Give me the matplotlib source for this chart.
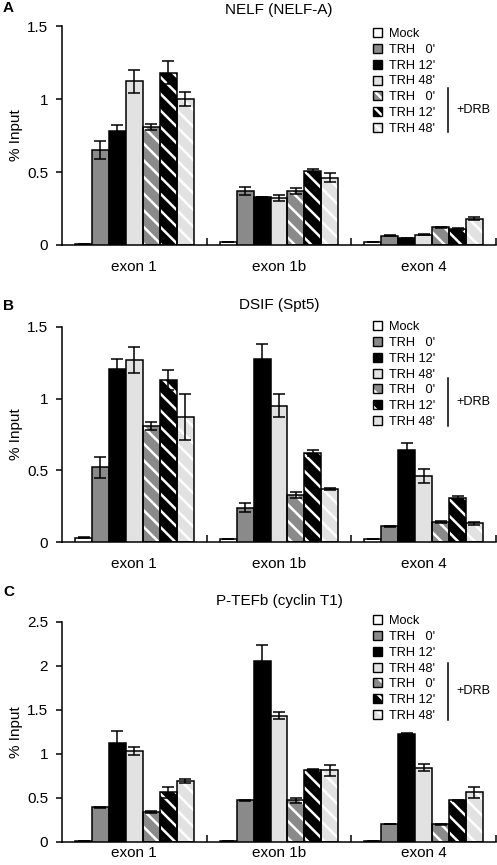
import matplotlib

matplotlib.use("Agg")
import matplotlib.pyplot as plt
import numpy as np
from matplotlib.patches import Patch

plt.rcParams["font.family"] = ["Liberation Sans", "DejaVu Sans"]
plt.rcParams["hatch.linewidth"] = 1.8
plt.rcParams["axes.linewidth"] = 1.1

# categories and series
exons = ["exon 1", "exon 1b", "exon 4"]
series = ["Mock", "TRH   0'", "TRH 12'", "TRH 48'", "TRH   0'", "TRH 12'", "TRH 48'"]

# panel A: NELF (NELF-A), rows = series, cols = exons
nelf_vals = [
    [0.01, 0.02, 0.02],
    [0.65, 0.37, 0.065],
    [0.78, 0.33, 0.045],
    [1.12, 0.32, 0.07],
    [0.81, 0.37, 0.12],
    [1.18, 0.51, 0.11],
    [1.00, 0.46, 0.18],
]
nelf_err = [
    [0.0, 0.0, 0.0],
    [0.06, 0.03, 0.005],
    [0.04, 0.0, 0.004],
    [0.08, 0.02, 0.004],
    [0.02, 0.02, 0.004],
    [0.08, 0.01, 0.005],
    [0.05, 0.03, 0.01],
]

# panel B: DSIF (Spt5)
dsif_vals = [
    [0.03, 0.02, 0.02],
    [0.52, 0.24, 0.11],
    [1.21, 1.28, 0.64],
    [1.27, 0.95, 0.46],
    [0.81, 0.33, 0.14],
    [1.13, 0.62, 0.31],
    [0.87, 0.37, 0.13],
]
dsif_err = [
    [0.005, 0.0, 0.0],
    [0.07, 0.03, 0.004],
    [0.07, 0.10, 0.05],
    [0.09, 0.08, 0.05],
    [0.03, 0.02, 0.005],
    [0.07, 0.02, 0.01],
    [0.16, 0.01, 0.01],
]

# panel C: P-TEFb (cyclin T1)
ptefb_vals = [
    [0.01, 0.01, 0.01],
    [0.39, 0.47, 0.20],
    [1.12, 2.05, 1.22],
    [1.03, 1.43, 0.84],
    [0.34, 0.47, 0.20],
    [0.56, 0.82, 0.47],
    [0.69, 0.81, 0.56],
]
ptefb_err = [
    [0.0, 0.0, 0.0],
    [0.01, 0.005, 0.0],
    [0.14, 0.18, 0.01],
    [0.05, 0.04, 0.04],
    [0.01, 0.03, 0.005],
    [0.06, 0.005, 0.005],
    [0.02, 0.06, 0.06],
]

face_colors = ["white", "#8a8a8a", "black", "#e2e2e2", "#8a8a8a", "black", "#e2e2e2"]
hatched = [False, False, False, False, True, True, True]

fig = plt.figure(figsize=(4.97, 8.65), dpi=100)
W, H = 497.0, 865.0


def px_axes(left, top, right, bottom):
    return fig.add_axes([left / W, 1 - bottom / H, (right - left) / W, (bottom - top) / H])


def draw_panel(ax, vals, errs, title, letter, ymax, heads_y, leg_top, line_y, label_pad):
    vals = np.array(vals)
    errs = np.array(errs)
    x = np.arange(len(exons))
    width = 0.117
    for i in range(len(series)):
        pos = x + (i - 3) * width
        if hatched[i]:
            # white stripes first, black outline on top
            ax.bar(pos, vals[i], width, color=face_colors[i], edgecolor="white",
                   linewidth=0, hatch="\\\\", zorder=2)
            ax.bar(pos, vals[i], width, fill=False, edgecolor="black",
                   linewidth=1.1, zorder=3)
        else:
            ax.bar(pos, vals[i], width, color=face_colors[i], edgecolor="black",
                   linewidth=1.1, zorder=3)
        ax.errorbar(pos, vals[i], yerr=errs[i], fmt="none", ecolor="black",
                    elinewidth=1.1, capsize=4.5, capthick=1.1, zorder=4)

    ax.set_xlim(-0.5, len(exons) - 0.5)
    ax.set_ylim(0, ymax)
    ax.spines["top"].set_visible(False)
    ax.spines["right"].set_visible(False)
    ax.set_yticks(np.arange(0, ymax + 1e-9, 0.5))
    ax.yaxis.set_major_formatter(plt.FormatStrFormatter("%g"))
    ax.tick_params(axis="y", direction="out", length=4, width=1.1, labelsize=11, pad=6)

    # boundary ticks between exons, labels centred under each group
    ax.set_xticks(np.arange(0.5, len(exons), 1.0))
    ax.set_xticklabels([])
    ax.tick_params(axis="x", which="major", direction="in", length=5, width=1.1)
    ax.set_xticks(x, minor=True)
    ax.set_xticklabels(exons, minor=True)
    ax.tick_params(axis="x", which="minor", length=0, labelsize=11, pad=label_pad)
    ax.set_ylabel("% Input", fontsize=11, labelpad=3)

    title_y, letter_y = heads_y
    fig.text(279 / W, 1 - title_y / H, title, fontsize=11, ha="center", va="center")
    fig.text(3 / W, 1 - letter_y / H, letter, fontsize=11, fontweight="bold",
             ha="left", va="center")

    handles = []
    for i in range(len(series)):
        if hatched[i]:
            handles.append((
                Patch(facecolor=face_colors[i], edgecolor="white", linewidth=0, hatch="\\\\"),
                Patch(fill=False, edgecolor="black", linewidth=1.0),
            ))
        else:
            handles.append(Patch(facecolor=face_colors[i], edgecolor="black", linewidth=1.0))
    fig.legend(handles, series, loc="upper left",
               bbox_to_anchor=(373 / W, 1 - leg_top / H), frameon=False,
               fontsize=9.2, handlelength=0.7, handleheight=0.7,
               handletextpad=0.55, labelspacing=0.3, borderpad=0, borderaxespad=0)
    y0, y1 = line_y
    fig.add_artist(plt.Line2D([448 / W, 448 / W], [1 - y0 / H, 1 - y1 / H],
                              color="black", linewidth=1.1))
    fig.text(456 / W, 1 - (y0 + y1) / 2 / H, "+DRB", fontsize=9.2, va="center", ha="left")


ax_a = px_axes(62, 26, 496, 245)
draw_panel(ax_a, nelf_vals, nelf_err, "NELF (NELF-A)", "A", 1.5, (10, 8), 28, (88, 132), 11)

ax_b = px_axes(62, 327, 496, 542)
draw_panel(ax_b, dsif_vals, dsif_err, "DSIF (Spt5)", "B", 1.5, (305, 306), 321, (378, 426), 11)

ax_c = px_axes(62, 621.7, 496, 841.7)
draw_panel(ax_c, ptefb_vals, ptefb_err, "P-TEFb (cyclin T1)", "C", 2.5, (601, 592), 615, (663, 720), 3)

fig.savefig("out.png", dpi=100)
